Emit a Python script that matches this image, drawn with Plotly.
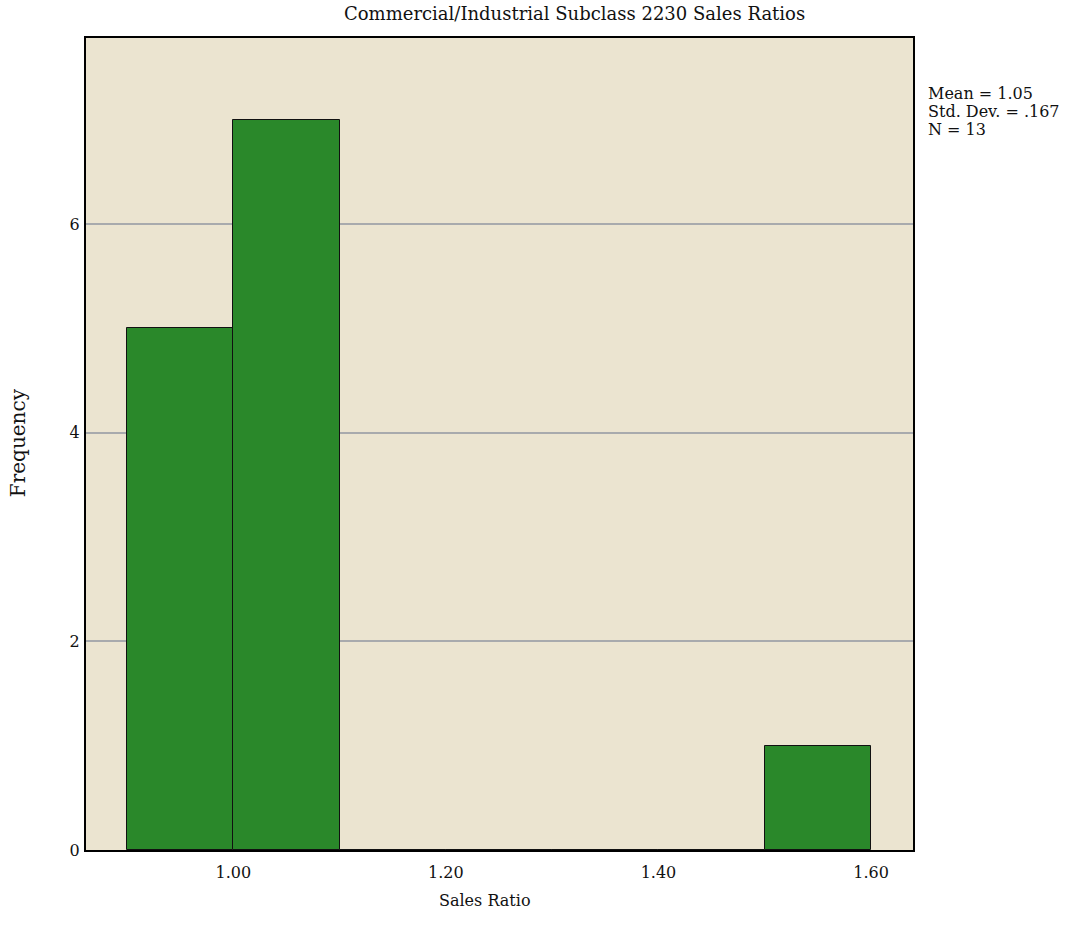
import plotly.graph_objects as go

bin_starts = [0.9, 1.0, 1.1, 1.2, 1.3, 1.4, 1.5]
counts = [5, 7, 0, 0, 0, 0, 1]
bin_width = 0.1
tick_vals = [1.0, 1.2, 1.4, 1.6]
tick_text = ["1.00", "1.20", "1.40", "1.60"]
stats_lines = ["Mean = 1.05", "Std. Dev. = .167", "N = 13"]
title_text = "Commercial/Industrial Subclass 2230 Sales Ratios"

centers = [s + bin_width / 2 for s in bin_starts]

serif = "DejaVu Serif"

fig = go.Figure()
fig.add_trace(go.Bar(
    x=centers, y=counts, width=[bin_width] * len(counts),
    marker=dict(color="#2a882a", line=dict(color="#111111", width=1)),
    showlegend=False,
))

fig.update_layout(
    width=1076, height=944,
    margin=dict(l=86, r=163, t=38, b=94),
    paper_bgcolor="white",
    plot_bgcolor="#ebe4d0",
    font=dict(family=serif, size=16, color="#111111"),
    bargap=0,
    xaxis=dict(
        range=[0.8614, 1.6395],
        tickvals=tick_vals, ticktext=tick_text,
        showgrid=False, zeroline=False,
        showline=True, mirror=True, linecolor="black", linewidth=2,
        ticks="outside", ticklen=7, tickcolor="rgba(0,0,0,0)",
        tickfont=dict(family=serif, size=16),
    ),
    yaxis=dict(
        range=[0, 7.785],
        tickvals=[0, 2, 4, 6],
        showgrid=True, gridcolor="#a8aaad", gridwidth=1.5,
        zeroline=False,
        showline=True, mirror=True, linecolor="black", linewidth=2,
        ticks="outside", ticklen=1, tickcolor="rgba(0,0,0,0)",
        tickfont=dict(family=serif, size=16),
    ),
)

fig.add_annotation(
    text=title_text, xref="paper", yref="paper", x=0.591, y=1.0, yshift=25,
    showarrow=False, xanchor="center", yanchor="middle",
    font=dict(family=serif, size=18, color="#111111"),
)
for i, line in enumerate(stats_lines):
    fig.add_annotation(
        text=line, xref="paper", yref="paper",
        x=1.0, xshift=14, y=1.0, yshift=-(55 + 18 * i), xanchor="left", yanchor="middle",
        align="left", showarrow=False, borderpad=0,
        font=dict(family=serif, size=16, color="#111111"),
    )
fig.add_annotation(
    text="Frequency", xref="paper", yref="paper", x=0, xshift=-68, y=0.501,
    textangle=-90, showarrow=False, xanchor="center", yanchor="middle",
    font=dict(family=serif, size=20, color="#111111"),
)
fig.add_annotation(
    text="Sales Ratio", xref="paper", yref="paper", x=0.4825, y=0, yshift=-50,
    showarrow=False, xanchor="center", yanchor="middle",
    font=dict(family=serif, size=16, color="#111111"),
)

fig.write_html("out.html", config={"displayModeBar": False},
               post_script="document.body.style.margin='0';")
